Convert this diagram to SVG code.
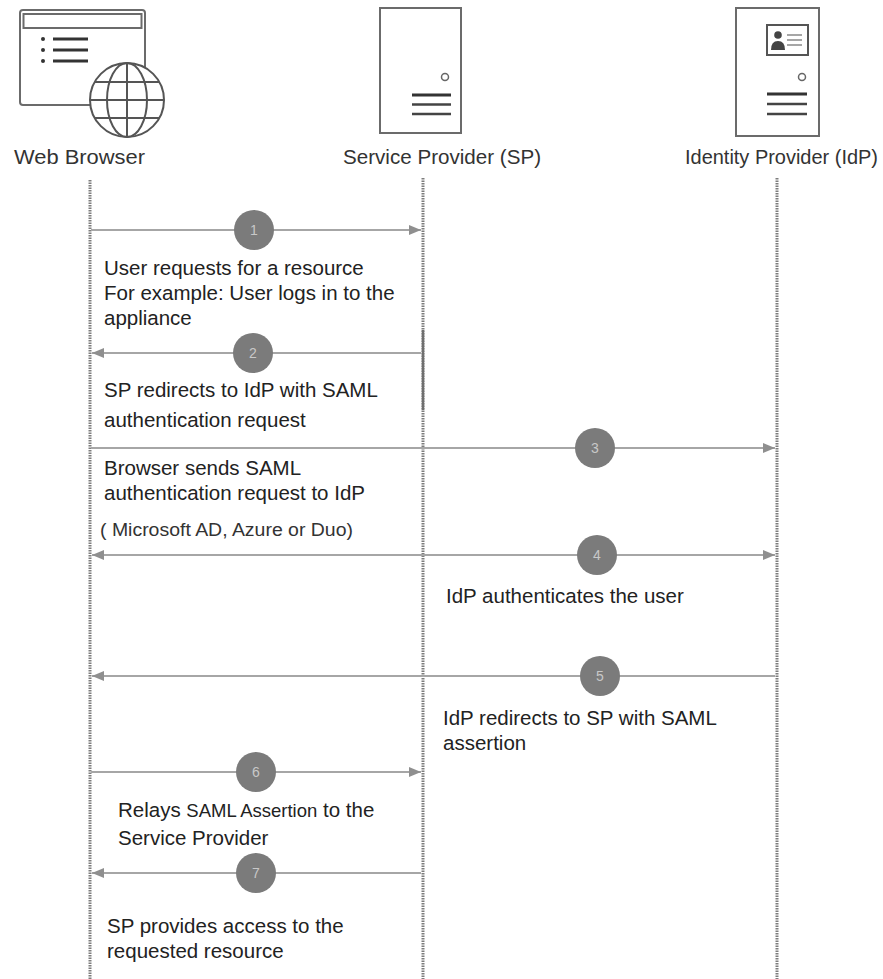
<svg xmlns="http://www.w3.org/2000/svg" width="883" height="979" viewBox="0 0 883 979">
<style>
  .icon{fill:#fff;stroke:#6b6b6b;stroke-width:2}
  .bar{stroke:#333;stroke-width:3;fill:none}
  .thin{stroke:#555;stroke-width:2;fill:none}
  .hdr{font-family:"Liberation Sans",Arial,sans-serif;font-size:20px;fill:#333}
  .lbl{font-family:"Liberation Sans",Arial,sans-serif;font-size:20.5px;fill:#222}
  .sm{font-family:"Liberation Sans",Arial,sans-serif;font-size:18px;fill:#333}
  .life{stroke:#7d7d7d;stroke-width:3;stroke-dasharray:1.5 1;fill:none}
  .msg{stroke:#a6a6a6;stroke-width:2;fill:none}
  .badge{fill:#7b7b7b}
  .num{font-family:"Liberation Sans",Arial,sans-serif;font-size:14px;fill:#c8c8c8;text-anchor:middle}
</style>
<defs>
  <marker id="ah" viewBox="0 0 12 10" refX="12" refY="5" markerWidth="12" markerHeight="10" markerUnits="userSpaceOnUse" orient="auto-start-reverse">
    <path d="M0,0 L12,5 L0,10 Z" fill="#8f8f8f"/>
  </marker>
</defs>
<rect width="883" height="979" fill="#fff"/>

<g id="browser">
  <rect class="icon" x="20" y="10" width="125" height="95" rx="3"/>
  <rect class="icon" x="23.5" y="14" width="118" height="14"/>
  <circle cx="43" cy="39" r="2" fill="#333"/>
  <circle cx="43" cy="50" r="2" fill="#333"/>
  <circle cx="43" cy="61" r="2" fill="#333"/>
  <line class="bar" x1="53" y1="39" x2="88" y2="39"/>
  <line class="bar" x1="53" y1="50" x2="88" y2="50"/>
  <line class="bar" x1="53" y1="61" x2="88" y2="61"/>
  <circle cx="127" cy="100" r="37" fill="#fff" stroke="#555" stroke-width="2"/>
  <ellipse class="thin" cx="127" cy="100" rx="20" ry="37"/>
  <line class="thin" x1="127" y1="63" x2="127" y2="137"/>
  <line class="thin" x1="90" y1="100" x2="164" y2="100"/>
  <line class="thin" x1="95" y1="82" x2="159" y2="82"/>
  <line class="thin" x1="95" y1="118" x2="159" y2="118"/>
  <text class="hdr" x="14" y="164" textLength="131" lengthAdjust="spacingAndGlyphs">Web Browser</text>
</g>

<g id="sp">
  <rect class="icon" x="380" y="8" width="81" height="125"/>
  <circle cx="445" cy="77" r="3.5" fill="#fff" stroke="#666" stroke-width="1.5"/>
  <line x1="412" y1="95" x2="451" y2="95" stroke="#333" stroke-width="3"/>
  <line x1="412" y1="104.5" x2="451" y2="104.5" stroke="#444" stroke-width="2.5"/>
  <line x1="412" y1="114" x2="451" y2="114" stroke="#444" stroke-width="2.5"/>
  <text class="hdr" x="343" y="164" textLength="198" lengthAdjust="spacingAndGlyphs">Service Provider (SP)</text>
</g>

<g id="idp">
  <rect class="icon" x="736" y="8" width="83" height="128"/>
  <rect x="767" y="25" width="41" height="30" fill="#fff" stroke="#555" stroke-width="2"/>
  <circle cx="778" cy="35" r="3.8" fill="#444"/>
  <path d="M771,50 Q771,41 778,41 Q785,41 785,50 Z" fill="#444"/>
  <line x1="787" y1="35" x2="802" y2="35" stroke="#888" stroke-width="1.5"/>
  <line x1="787" y1="40" x2="802" y2="40" stroke="#888" stroke-width="1.5"/>
  <line x1="787" y1="45" x2="802" y2="45" stroke="#888" stroke-width="1.5"/>
  <circle cx="802" cy="77" r="3.5" fill="#fff" stroke="#666" stroke-width="1.5"/>
  <line x1="767" y1="94" x2="807" y2="94" stroke="#333" stroke-width="3"/>
  <line x1="767" y1="104" x2="807" y2="104" stroke="#444" stroke-width="2.5"/>
  <line x1="767" y1="114" x2="807" y2="114" stroke="#444" stroke-width="2.5"/>
  <text class="hdr" x="685" y="164" textLength="193" lengthAdjust="spacingAndGlyphs">Identity Provider (IdP)</text>
</g>

<g id="lifelines">
  <line class="life" x1="90" y1="180" x2="90" y2="979"/>
  <line class="life" x1="423" y1="178" x2="423" y2="979"/>
  <line x1="423" y1="330" x2="423" y2="410" stroke="#6f6f6f" stroke-width="2.5"/>
  <line class="life" x1="777" y1="178" x2="777" y2="979"/>
</g>

<g id="connectors">
  <line class="msg" x1="91" y1="230" x2="421" y2="230" marker-end="url(#ah)"/>
  <line class="msg" x1="421" y1="353" x2="92" y2="353" marker-end="url(#ah)"/>
  <line class="msg" x1="91" y1="448" x2="775" y2="448" marker-end="url(#ah)"/>
  <line class="msg" x1="92" y1="555" x2="775" y2="555" marker-start="url(#ah)" marker-end="url(#ah)"/>
  <line class="msg" x1="775" y1="676" x2="92" y2="676" marker-end="url(#ah)"/>
  <line class="msg" x1="91" y1="772" x2="421" y2="772" marker-end="url(#ah)"/>
  <line class="msg" x1="421" y1="873" x2="92" y2="873" marker-end="url(#ah)"/>
</g>

<g id="badges">
  <circle class="badge" cx="254" cy="230" r="20"/><text class="num" x="254" y="235">1</text>
  <circle class="badge" cx="253" cy="353" r="20"/><text class="num" x="253" y="358">2</text>
  <circle class="badge" cx="595" cy="448" r="20"/><text class="num" x="595" y="453">3</text>
  <circle class="badge" cx="597" cy="555" r="20"/><text class="num" x="597" y="560">4</text>
  <circle class="badge" cx="600" cy="676" r="20"/><text class="num" x="600" y="681">5</text>
  <circle class="badge" cx="256" cy="772" r="20"/><text class="num" x="256" y="777">6</text>
  <circle class="badge" cx="256" cy="873" r="20"/><text class="num" x="256" y="878">7</text>
</g>

<g id="labels">
  <text class="lbl" x="104" y="275">User requests for a resource</text>
  <text class="lbl" x="104" y="300">For example: User logs in to the</text>
  <text class="lbl" x="104" y="325">appliance</text>
  <text class="lbl" x="104" y="397">SP redirects to IdP with SAML</text>
  <text class="lbl" x="104" y="427">authentication request</text>
  <text class="lbl" x="104" y="475">Browser sends SAML</text>
  <text class="lbl" x="104" y="500">authentication request to IdP</text>
  <text class="sm" x="100" y="536" textLength="253" lengthAdjust="spacingAndGlyphs">( Microsoft AD, Azure or Duo)</text>
  <text class="lbl" x="446" y="603">IdP authenticates the user</text>
  <text class="lbl" x="443" y="725">IdP redirects to SP with SAML</text>
  <text class="lbl" x="443" y="750">assertion</text>
  <text class="lbl" x="118" y="817">Relays <tspan font-size="18.5">SAML Assertion</tspan>  to the</text>
  <text class="lbl" x="118" y="845">Service Provider</text>
  <text class="lbl" x="107" y="933">SP provides access to the</text>
  <text class="lbl" x="107" y="958">requested resource</text>
</g>
</svg>
